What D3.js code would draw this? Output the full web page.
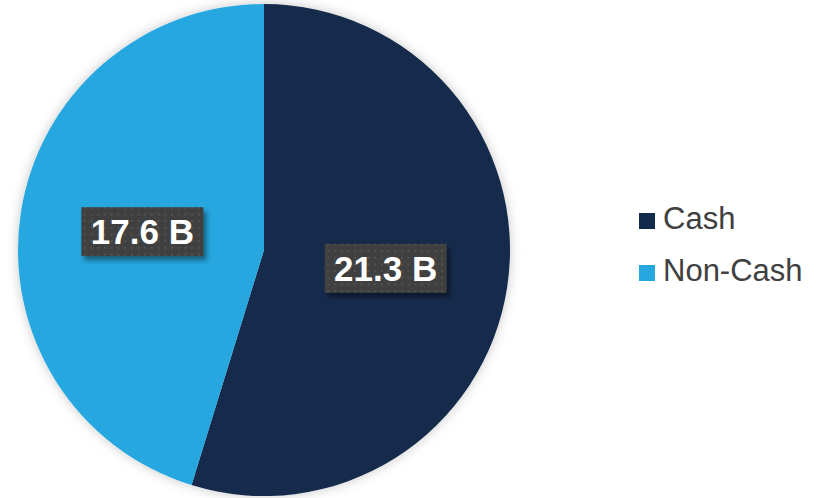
<!DOCTYPE html>
<html><head><meta charset="utf-8">
<script src="https://cdn.jsdelivr.net/npm/d3@7"></script>
<style>body{margin:0;background:#fff}svg{display:block}</style>
</head><body>
<script>
const categories = ["Cash", "Non-Cash"];
const values = [21.3, 17.6];
const labels = ["21.3 B", "17.6 B"];
const colors = ["#132B4B", "#26A7E0"];

const W = 821, H = 498, cx = 264, cy = 250, R = 246;
const svg = d3.select("body").append("svg").attr("width", W).attr("height", H);
const defs = svg.append("defs");
const f = defs.append("filter").attr("id","pieShadow").attr("x","-10%").attr("y","-10%").attr("width","120%").attr("height","120%");
f.append("feDropShadow").attr("dx",0).attr("dy",0).attr("stdDeviation",6).attr("flood-color","#000").attr("flood-opacity",0.22);
const f2 = defs.append("filter").attr("id","boxShadow").attr("x","-20%").attr("y","-30%").attr("width","150%").attr("height","170%");
f2.append("feDropShadow").attr("dx",3).attr("dy",4).attr("stdDeviation",2.5).attr("flood-color","#000").attr("flood-opacity",0.45);
const pat = defs.append("pattern").attr("id","dots").attr("width",6.7).attr("height",6.7).attr("patternUnits","userSpaceOnUse");
pat.append("rect").attr("width",6.7).attr("height",6.7).attr("fill","#404040");
pat.append("rect").attr("x",2).attr("y",2).attr("width",1.6).attr("height",1.6).attr("fill","#5a5a5a");

const pie = d3.pie().sort(null).value(d => d)(values);
const arc = d3.arc().innerRadius(0).outerRadius(R);
const g = svg.append("g").attr("transform", `translate(${cx},${cy})`);
g.append("g").attr("filter","url(#pieShadow)").selectAll("path").data(pie).join("path")
  .attr("d", arc).attr("fill", (d,i) => colors[i]);

const lg = g.selectAll("g.lbl").data(pie).join("g").attr("class","lbl")
  .attr("transform", d => `translate(${arc.centroid(d)})`);
lg.each(function(d,i){
  const s = d3.select(this);
  const t = s.append("text").text(labels[i]).attr("text-anchor","middle").attr("dy","0.36em")
    .attr("font-family","Liberation Sans, Arial, sans-serif").attr("font-weight","bold").attr("font-size",35).attr("fill","#fff");
  const w = t.node().getComputedTextLength();
  s.insert("rect","text").attr("x",-61).attr("y",-24.5).attr("width",122).attr("height",49)
    .attr("fill","url(#dots)").attr("filter","url(#boxShadow)");
});

const leg = svg.append("g").selectAll("g").data(categories).join("g")
  .attr("transform", (d,i) => `translate(639,${213 + i*52})`);
leg.append("rect").attr("width",16).attr("height",16).attr("fill",(d,i)=>colors[i]);
leg.append("text").attr("x",24).attr("y",16).text(d=>d)
  .attr("font-family","Liberation Sans, Arial, sans-serif").attr("font-size",31).attr("fill","#404040");
</script>
</body></html>
